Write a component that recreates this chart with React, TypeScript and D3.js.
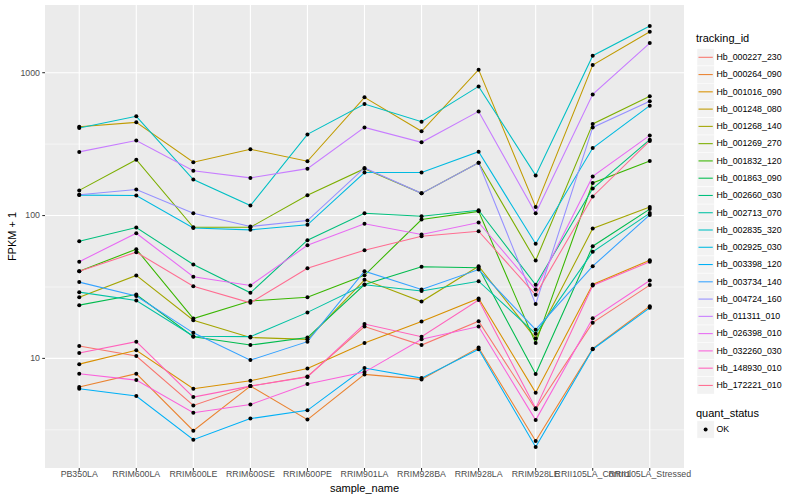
import * as d3 from "d3";

const SAMPLES = [
  "PB350LA",
  "RRIM600LA",
  "RRIM600LE",
  "RRIM600SE",
  "RRIM600PE",
  "RRIM901LA",
  "RRIM928BA",
  "RRIM928LA",
  "RRIM928LE",
  "RRII105LA_Control",
  "RRII105LA_Stressed",
];

const TRACKING_IDS = [
  "Hb_000227_230",
  "Hb_000264_090",
  "Hb_001016_090",
  "Hb_001248_080",
  "Hb_001268_140",
  "Hb_001269_270",
  "Hb_001832_120",
  "Hb_001863_090",
  "Hb_002660_030",
  "Hb_002713_070",
  "Hb_002835_320",
  "Hb_002925_030",
  "Hb_003398_120",
  "Hb_003734_140",
  "Hb_004724_160",
  "Hb_011311_010",
  "Hb_026398_010",
  "Hb_032260_030",
  "Hb_148930_010",
  "Hb_172221_010",
];

// FPKM + 1, one value per sample (same order as SAMPLES)
const HB_000227_230 = [12.2, 10.4, 4.69, 6.4, 7.48, 16.7, 12.4, 18.2, 4.4, 17.8, 32.6];
const HB_000264_090 = [6.3, 7.82, 3.12, 6.4, 3.73, 7.73, 7.13, 11.9, 2.64, 11.7, 23.2];
const HB_001016_090 = [9.12, 11.4, 6.14, 6.98, 8.51, 12.8, 18.1, 26.3, 5.76, 32.9, 48.7];
const HB_001248_080 = [419, 449, 236, 291, 240, 672, 389, 1050, 115, 1132, 1935];
const HB_001268_140 = [26.8, 38.1, 18.5, 14.0, 13.6, 35.5, 25.0, 44.2, 13.8, 81.1, 115];
const HB_001269_270 = [150, 246, 82.8, 82.8, 138.7, 213, 143, 234, 48.4, 438, 683];
const HB_001832_120 = [40.8, 58.1, 19.0, 25.2, 26.8, 38.2, 93.8, 107, 12.8, 169, 241];
const HB_001863_090 = [23.6, 28.0, 14.2, 12.4, 14.0, 32.9, 43.8, 43.1, 7.77, 61.0, 111];
const HB_002660_030 = [66.1, 82.4, 45.4, 28.8, 67.2, 103.8, 98.9, 109, 32.8, 154.5, 340];
const HB_002713_070 = [29.1, 25.4, 14.3, 14.2, 21.0, 32.8, 29.6, 34.7, 14.9, 55.7, 104];
const HB_002835_320 = [410, 495, 178.5, 117.5, 370, 604, 454, 802, 191, 1315, 2121];
const HB_002925_030 = [139, 138, 81.8, 79.4, 86.1, 200, 200, 280, 63.4, 297, 588];
const HB_003398_120 = [6.14, 5.45, 2.7, 3.79, 4.33, 8.56, 7.28, 11.6, 2.4, 11.6, 22.6];
const HB_003734_140 = [34.2, 27.3, 15.1, 9.73, 13.1, 40.8, 30.4, 41.9, 15.9, 44.2, 101];
const HB_004724_160 = [140, 152, 103.8, 83.8, 92.3, 215.6, 143, 234, 24.0, 414, 630];
const HB_011311_010 = [279, 335, 206, 183.5, 213, 414, 325.5, 536, 103.8, 705, 1613];
const HB_026398_010 = [47.5, 75.2, 37.3, 32.4, 62.0, 87.5, 73.6, 89.4, 30.4, 188, 364];
const HB_032260_030 = [7.82, 7.05, 4.17, 4.75, 6.61, 8.02, 13.6, 16.7, 3.7, 19.1, 35.1];
const HB_148930_010 = [10.9, 13.1, 5.36, 6.4, 7.4, 17.4, 14.2, 25.6, 4.47, 32.4, 47.5];
const HB_172221_010 = [40.8, 55.4, 32.0, 24.5, 42.8, 57.2, 71.7, 77.7, 27.9, 136, 333];

const SERIES_VALUES = [
  HB_000227_230,
  HB_000264_090,
  HB_001016_090,
  HB_001248_080,
  HB_001268_140,
  HB_001269_270,
  HB_001832_120,
  HB_001863_090,
  HB_002660_030,
  HB_002713_070,
  HB_002835_320,
  HB_002925_030,
  HB_003398_120,
  HB_003734_140,
  HB_004724_160,
  HB_011311_010,
  HB_026398_010,
  HB_032260_030,
  HB_148930_010,
  HB_172221_010,
];

const Y_BREAKS = [10, 100, 1000];
const QUANT_STATUS = ["OK"];

// ggplot2 default hue palette for 20 levels
const PALETTE = [
  "#F8766D", "#EA8331", "#D89000", "#C09B00", "#A3A500",
  "#7CAE00", "#39B600", "#00BB4E", "#00BF7D", "#00C1A3",
  "#00BFC4", "#00BAE0", "#00B0F6", "#35A2FF", "#9590FF",
  "#C77CFF", "#E76BF3", "#FA62DB", "#FF62BC", "#FF6C91",
];

const W = 800;
const H = 500;
const P = { left: 45, right: 684, top: 5, bottom: 468 };
const FONT = "'Liberation Sans', Arial, Helvetica, sans-serif";

export default function App() {
  const x = d3
    .scalePoint<string>()
    .domain(SAMPLES)
    .range([P.left, P.right])
    .padding(0.6);

  // log scale with ggplot's 5% expansion
  const all = SERIES_VALUES.flat();
  const lo = Math.log10(d3.min(all) ?? 1);
  const hi = Math.log10(d3.max(all) ?? 10);
  const pad = (hi - lo) * 0.05;
  const y = d3
    .scaleLog()
    .domain([10 ** (lo - pad), 10 ** (hi + pad)])
    .range([P.bottom, P.top]);

  const minor = Y_BREAKS.map((b) => b * Math.sqrt(10)).concat([Math.sqrt(10)]);

  const line = d3
    .line<number>()
    .x((_, i) => x(SAMPLES[i]) ?? 0)
    .y((v) => y(v));

  const legendX = 697;
  const keySize = 17.27;
  const keyY0 = 57.3;

  return (
    <div style={{ position: "absolute", left: 0, top: 0 }}>
      <svg width={W} height={H} style={{ display: "block", fontFamily: FONT }}>
        <rect width={W} height={H} fill="#ffffff" />
        <rect
          x={P.left}
          y={P.top}
          width={P.right - P.left}
          height={P.bottom - P.top}
          fill="#EBEBEB"
        />

        {/* minor grid */}
        {minor
          .filter((m) => y(m) > P.top && y(m) < P.bottom)
          .map((m) => (
            <line
              key={"mn" + m}
              x1={P.left}
              x2={P.right}
              y1={y(m)}
              y2={y(m)}
              stroke="#ffffff"
              strokeWidth={0.55}
            />
          ))}
        {/* major grid */}
        {Y_BREAKS.map((b) => (
          <line
            key={"mj" + b}
            x1={P.left}
            x2={P.right}
            y1={y(b)}
            y2={y(b)}
            stroke="#ffffff"
            strokeWidth={1.1}
          />
        ))}
        {SAMPLES.map((s) => (
          <line
            key={"vx" + s}
            x1={x(s)}
            x2={x(s)}
            y1={P.top}
            y2={P.bottom}
            stroke="#ffffff"
            strokeWidth={1.1}
          />
        ))}

        {/* series lines */}
        {SERIES_VALUES.map((vals, i) => (
          <path
            key={"ln" + i}
            d={line(vals) ?? ""}
            fill="none"
            stroke={PALETTE[i]}
            strokeWidth={1.07}
          />
        ))}

        {/* points */}
        {SERIES_VALUES.map((vals, i) =>
          vals.map((v, j) => (
            <circle
              key={`pt${i}-${j}`}
              cx={x(SAMPLES[j])}
              cy={y(v)}
              r={2}
              fill="#000000"
            />
          )),
        )}

        {/* y axis */}
        {Y_BREAKS.map((b) => (
          <g key={"yt" + b}>
            <line
              x1={P.left - 2.74}
              x2={P.left}
              y1={y(b)}
              y2={y(b)}
              stroke="#333333"
              strokeWidth={1.07}
            />
            <text
              x={P.left - 5}
              y={y(b)}
              dy="0.32em"
              textAnchor="end"
              fontSize={8.8}
              fill="#4D4D4D"
            >
              {d3.format("d")(b)}
            </text>
          </g>
        ))}
        <text
          transform={`translate(16,${(P.top + P.bottom) / 2}) rotate(-90)`}
          textAnchor="middle"
          fontSize={11}
          fill="#000000"
        >
          FPKM + 1
        </text>

        {/* x axis */}
        {SAMPLES.map((s) => (
          <g key={"xt" + s}>
            <line
              x1={x(s)}
              x2={x(s)}
              y1={P.bottom}
              y2={P.bottom + 2.74}
              stroke="#333333"
              strokeWidth={1.07}
            />
            <text
              x={x(s)}
              y={477}
              textAnchor="middle"
              fontSize={8.8}
              fill="#4D4D4D"
            >
              {s}
            </text>
          </g>
        ))}
        <text
          x={(P.left + P.right) / 2}
          y={492}
          textAnchor="middle"
          fontSize={11}
          fill="#000000"
        >
          sample_name
        </text>

        {/* legend: tracking_id */}
        <text x={696} y={42} fontSize={11} fill="#000000">
          tracking_id
        </text>
        {TRACKING_IDS.map((id, i) => {
          const cy = keyY0 + i * keySize;
          return (
            <g key={"lg" + id}>
              <rect
                x={legendX}
                y={cy - keySize / 2}
                width={keySize}
                height={keySize}
                fill="#F2F2F2"
                stroke="#ffffff"
                strokeWidth={0.5}
              />
              <line
                x1={legendX + 1.5}
                x2={legendX + keySize - 1.5}
                y1={cy}
                y2={cy}
                stroke={PALETTE[i]}
                strokeWidth={1.07}
              />
              <text x={716.5} y={cy} dy="0.32em" fontSize={8.8} fill="#000000">
                {id}
              </text>
            </g>
          );
        })}

        {/* legend: quant_status */}
        <text x={696} y={416.5} fontSize={11} fill="#000000">
          quant_status
        </text>
        {QUANT_STATUS.map((q, i) => {
          const cy = 429.5 + i * keySize;
          return (
            <g key={"qs" + q}>
              <rect
                x={legendX}
                y={cy - keySize / 2}
                width={keySize}
                height={keySize}
                fill="#F2F2F2"
                stroke="#ffffff"
                strokeWidth={0.5}
              />
              <circle cx={legendX + keySize / 2} cy={cy} r={2} fill="#000000" />
              <text x={716.5} y={cy} dy="0.32em" fontSize={8.8} fill="#000000">
                {q}
              </text>
            </g>
          );
        })}
      </svg>
    </div>
  );
}
